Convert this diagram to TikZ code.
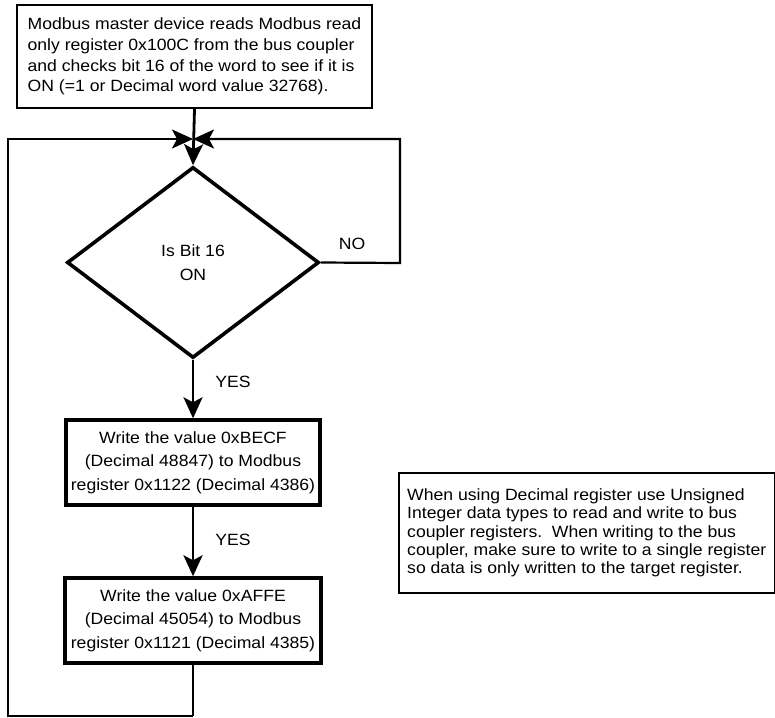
\documentclass[tikz,border=0pt]{standalone}
\usepackage{fontspec}
\setmainfont{Liberation Sans}[FakeStretch=1.08]
\usetikzlibrary{arrows.meta,shapes.geometric}
\begin{document}
\begin{tikzpicture}[x=1pt,y=-1pt,
  tip/.style={-{Stealth[length=21pt,width=19pt,inset=5pt]}},
  loopline/.style={line width=2.2pt},
  shaft/.style={line width=2.8pt},
  boxthin/.style={draw,line width=2.2pt,inner sep=0pt},
  boxthick/.style={draw,line width=3.4pt,inner sep=0pt,minimum height=85pt,align=center,
     font=\fontsize{16.3}{23.7}\selectfont},
  lbl/.style={font=\fontsize{16.3}{20}\selectfont,inner sep=0pt}
]
\useasboundingbox (0,0) rectangle (775,717);

\node[boxthin,minimum width=355pt,minimum height=103pt,align=left,
  font=\fontsize{16.3}{20.6}\selectfont] (top) at (194.5,56.5)
  {Modbus master device reads Modbus read\\
   only register 0x100C from the bus coupler\\
   and checks bit 16 of the word to see if it is\\
   ON (=1 or Decimal word value 32768).};

\coordinate (J) at (193,139);

\node[diamond,draw,line width=3.6pt,inner sep=0pt,minimum width=252pt,minimum height=191pt,
  align=center,font=\fontsize{16.3}{24}\selectfont] (dec) at (193,262.5)
  {Is Bit 16\\ON};

\node[boxthick,minimum width=254pt] (w1) at (193,462.5)
  {Write the value 0xBECF\\(Decimal 48847) to Modbus\\register 0x1122 (Decimal 4386)};

\node[boxthick,minimum width=256pt] (w2) at (193,620.5)
  {Write the value 0xAFFE\\(Decimal 45054) to Modbus\\register 0x1121 (Decimal 4385)};

\node[draw,line width=1.2pt,inner sep=0pt,minimum width=375.5pt,minimum height=120pt,align=left,
  font=\fontsize{16.3}{18.3}\selectfont] (note) at (586.75,533)
  {When using Decimal register use Unsigned\\
   Integer data types to read and write to bus\\
   coupler registers.\ \ When writing to the bus\\
   coupler, make sure to write to a single register\\
   so data is only written to the target register.};

\coordinate (NOr) at (400,263);
\coordinate (NOt) at (400,139);
\coordinate (Bb) at (193,716);
\coordinate (Bl) at (8,716);
\coordinate (Lt) at (8,139);

% top box to decision
\draw[shaft,tip] (top.south) -- (dec.north);
% NO loop
\draw[loopline,tip] (dec.east) -- (NOr) -- (NOt) -- (J);
\node[lbl] (no) at (352,244) {NO};
% YES arrows
\draw[shaft,tip] (dec.south) -- (w1.north);
\node[lbl] (yes1) at (233,382) {YES};
\draw[shaft,tip] (w1.south) -- (w2.north);
\node[lbl] (yes2) at (233,540) {YES};
% return loop
\draw[shaft] (w2.south) -- (Bb);
\draw[loopline,tip] (Bb) -- (Bl) -- (Lt) -- (J);
\end{tikzpicture}
\end{document}
